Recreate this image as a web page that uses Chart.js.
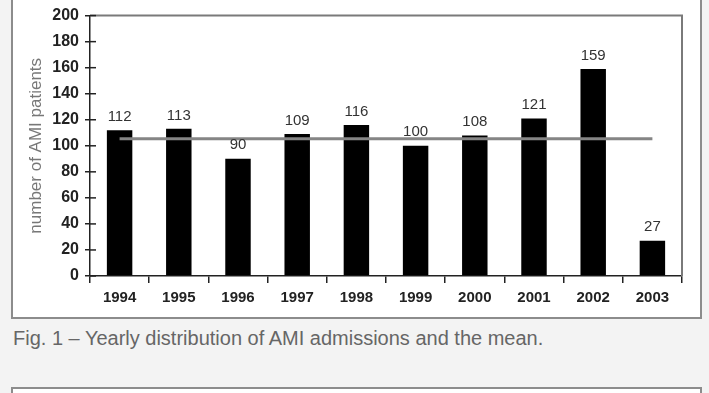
<!DOCTYPE html>
<html>
<head>
<meta charset="utf-8">
<script src="https://cdn.jsdelivr.net/npm/chart.js@4.4.1/dist/chart.umd.min.js"></script>
<style>
  html, body { margin: 0; padding: 0; background: #f3f3f3; width: 709px; height: 393px; overflow: hidden; }
  .frame { position: absolute; left: 11px; top: -6px; width: 687px; height: 321px; border: 2px solid #8c8c8c; background: #fff; }
  .frame2 { position: absolute; left: 11px; top: 387px; width: 687px; height: 40px; border: 2px solid #8c8c8c; background: #fff; }
  .caption { position: absolute; left: 13px; top: 327px; font: 20px "Liberation Sans", Arial, sans-serif; color: #666; white-space: nowrap; }
  #wrap { position: absolute; left: 0; top: 0; width: 709px; height: 393px; }
</style>
</head>
<body>
<div class="frame"></div>
<div class="frame2"></div>
<div class="caption">Fig. 1 – Yearly distribution of AMI admissions and the mean.</div>
<div id="wrap"><canvas id="chart" width="709" height="393"></canvas></div>
<script>
// data
const years = ["1994", "1995", "1996", "1997", "1998", "1999", "2000", "2001", "2002", "2003"];
const admissions = [112, 113, 90, 109, 116, 100, 108, 121, 159, 27];
const meanLine = [105.5, 105.5, 105.5, 105.5, 105.5, 105.5, 105.5, 105.5, 105.5, 105.5];
const yTicks = [0, 20, 40, 60, 80, 100, 120, 140, 160, 180, 200];

// value labels above the bars
const barLabels = {
  id: "barLabels",
  afterDatasetsDraw(chart) {
    const ctx = chart.ctx;
    const meta = chart.getDatasetMeta(0);
    ctx.save();
    ctx.font = "15px 'Liberation Sans', Arial, sans-serif";
    ctx.fillStyle = "#333";
    ctx.textAlign = "center";
    ctx.textBaseline = "bottom";
    meta.data.forEach((bar, i) => {
      ctx.fillText(admissions[i], bar.x, bar.y - 6);
    });
    ctx.restore();
  },
};

// grey box on top/right of the plot, and inner half of the y ticks
const plotBox = {
  id: "plotBox",
  beforeDatasetsDraw(chart) {
    const { ctx, chartArea: a, scales } = chart;
    ctx.save();
    ctx.strokeStyle = "#7a7a7a";
    ctx.lineWidth = 2;
    ctx.beginPath();
    ctx.moveTo(a.left, a.top);
    ctx.lineTo(a.right, a.top);
    ctx.lineTo(a.right, a.bottom);
    ctx.stroke();
    ctx.strokeStyle = "#222";
    ctx.lineWidth = 1.5;
    yTicks.forEach((v) => {
      const y = scales.y.getPixelForValue(v);
      ctx.beginPath();
      ctx.moveTo(a.left, y);
      ctx.lineTo(a.left + 6, y);
      ctx.stroke();
    });
    ctx.restore();
  },
};

new Chart(document.getElementById("chart"), {
  type: "bar",
  data: {
    labels: years,
    datasets: [
      {
        type: "bar",
        data: admissions,
        backgroundColor: "#000",
        barPercentage: 0.43,
        categoryPercentage: 1,
        order: 1,
      },
      {
        type: "line",
        data: meanLine,
        borderColor: "#858585",
        borderWidth: 3,
        pointRadius: 0,
        fill: false,
        order: 0,
      },
    ],
  },
  options: {
    responsive: false,
    animation: false,
    events: [],
    layout: { padding: { top: 12, right: 27, left: 0, bottom: 0 } },
    plugins: { legend: { display: false }, tooltip: { enabled: false } },
    scales: {
      x: {
        offset: true,
        grid: { offset: true, drawOnChartArea: false, tickLength: 7, color: "#222", lineWidth: 1.5 },
        border: { color: "#222", width: 1.5 },
        ticks: {
          color: "#222",
          padding: 6,
          font: { family: "'Liberation Sans', Arial, sans-serif", size: 15, weight: "bold" },
        },
        afterFit(s) { s.height = 117; },
      },
      y: {
        min: 0,
        max: 200,
        afterBuildTicks(s) { s.ticks = yTicks.map((v) => ({ value: v })); },
        grid: { drawOnChartArea: false, tickLength: 5, color: "#222", lineWidth: 1.5 },
        border: { color: "#222", width: 1.5 },
        ticks: {
          color: "#222",
          padding: 6,
          font: { family: "'Liberation Sans', Arial, sans-serif", size: 16, weight: "bold" },
        },
        title: {
          display: true,
          text: "number of AMI patients",
          color: "#777",
          padding: { top: 26, bottom: 4 },
          font: { family: "'Liberation Sans', Arial, sans-serif", size: 17 },
        },
        afterFit(s) { s.width = 90; },
      },
    },
  },
  plugins: [barLabels, plotBox],
});
</script>
</body>
</html>
